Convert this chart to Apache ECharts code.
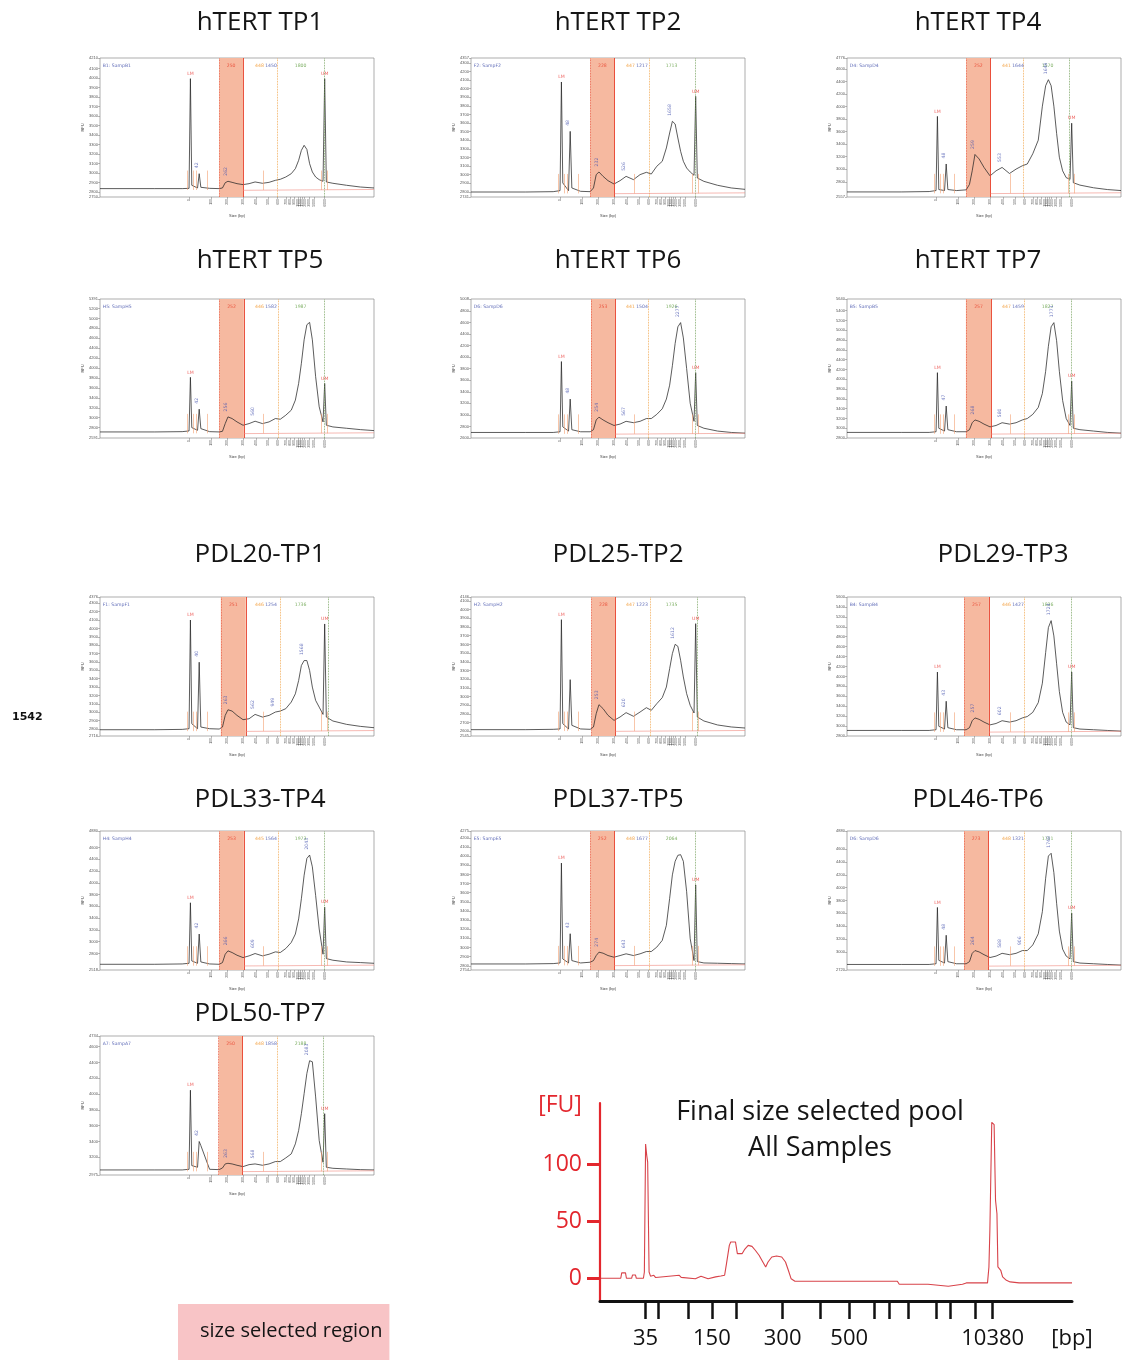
<!DOCTYPE html>
<html><head><meta charset="utf-8">
<script src="https://cdn.jsdelivr.net/npm/echarts@6/dist/echarts.min.js"></script>
<style>html,body{margin:0;padding:0;background:#fff}#c{width:1127px;height:1360px}</style>
</head><body><div id="c"></div><script>
// ---------- DATA: small electropherograms ----------
const tracePos = [0,20,30,32.5,33.0,33.5,35.6,36.2,36.8,40,43.5,44.7,45.7,46.7,48.2,50,52.2,54.4,56.6,59.3,61.7,64,65.8,67.8,69.8,71.3,72.5,73.5,74.5,75.5,76.5,77.5,78.7,80,81.4,82.0,82.6,85,90,95,100];
const LM_INDEX = 4, UM_INDEX = 35;
const sizeTickPos = [32.6,40.5,46.4,52.2,56.9,61.4,64.8,67.8,69.5,70.9,72.2,73.0,73.8,74.7,76.4,78.2,82.0];
const sizeTickLabels = ['1','100','200','300','400','500','600','700','800','900','1000','1200','1500','2000','3000','5000','6000'];

const titles = ['hTERT TP1','hTERT TP2','hTERT TP4','hTERT TP5','hTERT TP6','hTERT TP7','PDL20-TP1','PDL25-TP2','PDL29-TP3','PDL33-TP4','PDL37-TP5','PDL46-TP6','PDL50-TP7'];
const sampleNames = ['B1: SampB1','F2: SampF2','D4: SampD4','H5: SampH5','D6: SampD6','B5: SampB5','F1: SampF1','H2: SampH2','B4: SampB4','H4: SampH4','E5: SampE5','D6: SampD6','A7: SampA7'];
const yMin = [2750,2741,2557,2591,2600,2800,2716,2545,2800,2518,2754,2720,2975];
const yMax = [4210,4357,4776,5391,5008,5640,4376,4146,5600,4880,4275,4880,4734];
const yStep = [100,100,200,200,200,200,100,100,200,200,100,200,200];

const rfu_hTERT_TP1 = [2838,2838,2838,2841,3993,2873,2845,2995,2852,2841,2838,2845,2900,2915,2904,2890,2880,2890,2908,2894,2904,2925,2936,2960,2995,3048,3135,3240,3293,3250,3100,3013,2960,2932,2915,3993,2908,2894,2873,2855,2845];
const rfu_hTERT_TP2 = [2799,2799,2803,2815,4078,2904,2815,3504,2846,2807,2803,2846,3001,3032,2981,2931,2892,2931,2981,2943,3001,3028,3008,3098,3156,3311,3485,3621,3590,3427,3272,3156,3078,3032,2993,3911,2962,2923,2877,2846,2830];
const rfu_hTERT_TP4 = [2638,2638,2644,2660,3844,2676,2660,3084,2676,2660,2671,2758,2975,3236,3165,3029,2894,2975,3029,2932,3002,3056,3084,3247,3464,4007,4333,4430,4333,4007,3572,3192,2975,2866,2839,3735,2785,2747,2704,2676,2660];
const rfu_hTERT_TP5 = [2713,2713,2719,2733,3813,2800,2746,3172,2780,2719,2713,2726,2881,3016,2983,2915,2848,2881,2929,2881,2915,2983,2969,3050,3151,3354,3691,4096,4569,4873,4920,4569,3826,3219,2915,3691,2848,2814,2787,2760,2740];
const rfu_hTERT_TP6 = [2696,2696,2696,2708,3924,2793,2720,3274,2744,2708,2708,2744,2913,2961,2913,2865,2817,2841,2889,2865,2889,2937,2937,3009,3106,3274,3515,3852,4237,4526,4599,4334,3804,3202,2889,3732,2817,2769,2720,2696,2684];
const rfu_hTERT_TP7 = [2914,2914,2914,2928,4135,2999,2942,3453,2970,2928,2928,2970,3112,3169,3141,3084,3027,3056,3112,3084,3112,3169,3198,3283,3425,3709,4163,4674,5072,5157,4788,4163,3567,3198,3056,3964,2999,2970,2942,2914,2899];
const rfu_PDL20_TP1 = [2791,2791,2795,2803,4101,2863,2803,3597,2823,2803,2799,2823,2962,3029,3014,2962,2911,2922,2974,2942,2962,3002,3014,3042,3121,3220,3379,3558,3617,3617,3498,3300,3141,3061,2974,4054,2942,2895,2855,2831,2815];
const rfu_PDL25_TP2 = [2618,2618,2622,2626,3885,2687,2626,3194,2668,2626,2622,2649,2802,2906,2860,2783,2725,2764,2814,2772,2821,2871,2841,2917,2987,3109,3321,3494,3601,3578,3417,3225,3033,2898,2810,3839,2764,2718,2672,2649,2637];
const rfu_PDL29_TP3 = [2912,2912,2912,2926,4088,2996,2940,3500,2968,2926,2926,2968,3108,3164,3136,3080,3024,3052,3108,3080,3108,3164,3192,3276,3472,3864,4480,4984,5124,4816,4256,3696,3276,3080,3024,4088,2968,2940,2926,2912,2898];
const rfu_PDL33_TP4 = [2615,2615,2621,2632,3660,2672,2632,3129,2655,2621,2615,2644,2786,2843,2815,2769,2729,2758,2798,2758,2786,2826,2815,2883,2986,3129,3386,3729,4128,4414,4471,4271,3786,3215,2786,3586,2712,2684,2655,2644,2632];
const rfu_PDL37_TP5 = [2820,2820,2824,2831,3924,2875,2831,3151,2857,2831,2839,2857,2912,2949,2938,2912,2894,2912,2931,2912,2931,2956,2956,3004,3078,3243,3538,3795,3943,4009,4016,3943,3611,3096,2857,3685,2846,2831,2828,2824,2820];
const rfu_PDL46_TP6 = [2806,2806,2806,2817,3692,2871,2828,3260,2850,2817,2817,2850,2979,3022,3001,2958,2914,2936,2979,2958,2979,3022,3022,3109,3282,3627,4146,4491,4534,4232,3757,3325,3044,2936,2893,3606,2850,2828,2817,2806,2796];
const rfu_PDL50_TP7 = [3039,3039,3039,3047,4048,3094,3073,3399,3348,3047,3043,3064,3115,3123,3115,3098,3081,3106,3115,3098,3115,3145,3145,3191,3242,3369,3539,3751,4005,4260,4421,4408,3963,3412,3136,3751,3073,3060,3051,3043,3039];
const traces = [rfu_hTERT_TP1,rfu_hTERT_TP2,rfu_hTERT_TP4,rfu_hTERT_TP5,rfu_hTERT_TP6,rfu_hTERT_TP7,rfu_PDL20_TP1,rfu_PDL25_TP2,rfu_PDL29_TP3,rfu_PDL33_TP4,rfu_PDL37_TP5,rfu_PDL46_TP6,rfu_PDL50_TP7];

const regionStart = [43.5,43.5,43.5,43.5,43.8,43.4,44.1,43.9,42.7,43.5,43.5,42.7,43.3];
const regionEnd   = [52.2,52.4,52.4,52.5,52.6,52.6,53.2,52.7,51.8,52.5,52.3,51.5,52.0];
const lowerCutPos = [64.8,65.0,64.3,65.0,64.8,64.8,65.9,65.4,64.6,64.9,64.9,64.6,64.8];
const upperCutPos = [82.0,82.0,81.1,82.0,82.0,82.0,83.4,82.6,81.8,82.0,82.0,81.8,81.5];
const regionLabel = ['250','228','252','252','253','257','251','228','257','253','252','273','250'];
const lowerLabel  = ['448','447','441','446','441','447','446','447','446','445','448','448','448'];
const midLabel    = ['1450','1217','1644','1582','1504','1459','1254','1223','1427','1564','1677','1321','1858'];
const upperLabel  = ['1800','1713','1570','1987','1926','1827','1736','1735','1836','1973','2064','1711','2188'];
const peakNotes = [
  [[7,'42'],[13,'262']],
  [[7,'48'],[13,'232'],[18,'526'],[27,'1658']],
  [[7,'48'],[13,'259'],[18,'553'],[27,'1649']],
  [[7,'42'],[13,'256'],[18,'560']],
  [[7,'48'],[13,'254'],[18,'567'],[30,'2277']],
  [[7,'47'],[13,'268'],[18,'580'],[29,'1771']],
  [[7,'40'],[13,'263'],[18,'562'],[21,'949'],[28,'1568']],
  [[13,'253'],[18,'620'],[28,'1612']],
  [[7,'43'],[13,'257'],[18,'602'],[28,'1724']],
  [[7,'42'],[13,'266'],[18,'609'],[30,'2043']],
  [[7,'43'],[13,'274'],[18,'643']],
  [[7,'48'],[13,'264'],[18,'588'],[21,'906'],[28,'1748']],
  [[7,'42'],[13,'263'],[18,'568'],[30,'2083']]
];
const peakMarkPos = [31.9,34.0,35.2,39.0,59.5,80.8,83.0];

// ---------- DATA: final pooled trace ----------
const ladderSizes = [35,50,100,150,200,300,400,500,600,700,1000,2000,3000,7000,10380];
const ladderPos = [9.66,12.3,18.6,23.7,28.8,38.7,46.6,52.8,58.2,61.2,65.3,71.3,74.2,79.6,83.2];
const ladderLabelled = [35,150,300,500,10380];
const fuTicks = [0,50,100];
const poolPos = [0.2,4.4,4.6,5.4,5.6,6.7,6.9,7.5,7.7,9.2,9.4,9.66,9.9,10.1,10.4,10.7,11.4,11.8,16.8,17.2,20.2,21.4,22.9,24.5,25.6,26.4,26.8,27.2,27.4,27.7,28.7,29.1,30.1,30.6,31.4,32.2,32.9,33.7,34.5,35.1,35.6,36.4,37.4,38.5,39.3,39.9,40.5,41.3,45.3,63.0,63.4,69.5,69.9,73.8,74.2,76.8,77.6,78.0,79.9,82.1,82.4,82.6,83.0,83.5,83.8,84.1,84.3,84.9,85.3,86.1,86.9,88.8,100];
const poolFU = [0,0,4.7,4.7,0,0,2.9,2.9,0,0,5.5,118,108,102,5.5,1.8,2.6,0.6,2.6,0.8,-0.5,1.8,-0.5,1.2,2.0,2.6,12.9,14.3,28.9,31.9,31.9,21.6,21.6,25.1,28.9,28,24.6,20.2,14.3,9.9,14.3,18.7,19.6,18.7,14.3,7.0,-0.5,-2.6,-2.6,-2.6,-5.3,-5.3,-7.0,-7.0,-5.3,-5.3,-4.1,-3.2,-4.1,-4.1,9.9,42.1,137,135,68.4,56.7,9.9,7.0,1.2,-1.8,-3.2,-4.1,-4.1];

// ---------- LAYOUT ----------
const colLeft = [100,471,847], rowTop = [58,299,597,831,1036], PW = 274, PH = 139;
const cell = [[0,0],[0,1],[0,2],[1,0],[1,1],[1,2],[2,0],[2,1],[2,2],[3,0],[3,1],[3,2],[4,0]];
const titleX = [260,618,978,260,618,978,260,618,1003,260,618,978,260];
const titleY = [22,22,22,260,260,260,554,554,554,799,799,799,1013];
const FONT = "'Open Sans', 'Noto Sans', sans-serif";

const grid = [], xAxis = [], yAxis = [], series = [], title = [];

function yLabelValues(i){
  const out=[yMin[i]], s=yStep[i];
  for(let v=Math.ceil(yMin[i]/s)*s; v<yMax[i]; v+=s){
    if(v-yMin[i] > s*0.45 && yMax[i]-v > s*0.45) out.push(v);
  }
  out.push(yMax[i]); return out;
}

traces.forEach((tr, i) => {
  const [r, c] = cell[i];
  grid.push({left: colLeft[c], top: rowTop[r], width: PW, height: PH, show: true, borderColor: '#8a8a8a', borderWidth: 0.7, backgroundColor: 'transparent'});
  xAxis.push({type: 'value', gridIndex: i, min: 0, max: 100,
    axisLine: {show: false, onZero: false}, splitLine: {show: false},
    axisTick: {show: true, customValues: sizeTickPos, length: 2, lineStyle: {color: '#777', width: 0.5}},
    axisLabel: {show: true, customValues: sizeTickPos, rotate: 90, fontSize: 3.5, color: '#555', margin: 2,
      formatter: v => { const k = sizeTickPos.indexOf(v); return k >= 0 ? sizeTickLabels[k] : ''; }},
    name: 'Size (bp)', nameLocation: 'middle', nameGap: 17, nameTextStyle: {fontSize: 4, color: '#444'}});
  const yv = yLabelValues(i);
  yAxis.push({type: 'value', gridIndex: i, min: yMin[i], max: yMax[i],
    axisLine: {show: false, onZero: false}, splitLine: {show: false},
    axisTick: {show: true, customValues: yv, length: 2, lineStyle: {color: '#777', width: 0.5}},
    axisLabel: {show: true, customValues: yv, fontSize: 4, color: '#555', margin: 2, formatter: v => String(v)},
    name: 'RFU', nameLocation: 'middle', nameGap: 15, nameRotate: 90, nameTextStyle: {fontSize: 4, color: '#444'}});

  const base = tr[0], range = yMax[i] - yMin[i];
  const markSegs = peakMarkPos.map(x => [{coord: [x, base - range*0.01]}, {coord: [x, base + range*0.13]}]);
  series.push({
    type: 'line', xAxisIndex: i, yAxisIndex: i, z: 3, silent: true, animation: false,
    data: tracePos.map((x, k) => [x, tr[k]]), symbol: 'none',
    lineStyle: {color: '#262626', width: 0.75},
    markArea: {silent: true, itemStyle: {color: '#f6b9a0'}, data: [[{xAxis: regionStart[i]}, {xAxis: regionEnd[i]}]]},
    markLine: {silent: true, symbol: ['none','none'], label: {show: false}, animation: false,
      data: [
        {xAxis: regionStart[i], lineStyle: {color: '#e8503a', type: 'dotted', width: 0.8}},
        {xAxis: regionEnd[i], lineStyle: {color: '#e8402a', type: 'solid', width: 0.9}},
        {xAxis: lowerCutPos[i], lineStyle: {color: '#f0a040', type: 'dotted', width: 0.8}},
        {xAxis: upperCutPos[i], lineStyle: {color: '#6c9a50', type: 'dotted', width: 0.8}},
        [{coord: [regionEnd[i], base - range*0.012], lineStyle: {color: '#f08a80', type: 'solid', width: 0.6}}, {coord: [100, base - range*0.006]}]
      ].concat(markSegs.map(s => [Object.assign({lineStyle: {color: '#f4a070', type: 'solid', width: 0.6}}, s[0]), s[1]]))
    }
  });

  const topY = yMax[i] - range*0.055;
  const lab = [];
  lab.push({value: [0.8, topY], label: {formatter: sampleNames[i], color: '#3b4aa8', position: 'right', distance: 0}});
  lab.push({value: [(regionStart[i]+regionEnd[i])/2, topY], label: {formatter: regionLabel[i], color: '#e8402a'}});
  lab.push({value: [58.2, topY], label: {formatter: lowerLabel[i], color: '#f09020'}});
  lab.push({value: [62.4, topY], label: {formatter: midLabel[i], color: '#3b4aa8'}});
  lab.push({value: [73.2, topY], label: {formatter: upperLabel[i], color: '#5a9a3a'}});
  lab.push({value: [tracePos[LM_INDEX], tr[LM_INDEX]], label: {formatter: 'LM', color: '#e8302a', position: 'top', distance: 2}});
  lab.push({value: [tracePos[UM_INDEX], tr[UM_INDEX]], label: {formatter: 'UM', color: '#e8302a', position: 'top', distance: 2}});
  peakNotes[i].forEach(([k, t]) => lab.push({value: [tracePos[k], tr[k]], label: {formatter: t, color: '#4a58b0', position: 'top', distance: 5, rotate: 90, align: 'left'}}));
  series.push({type: 'scatter', xAxisIndex: i, yAxisIndex: i, z: 6, silent: true, animation: false,
    symbolSize: 1, itemStyle: {color: 'rgba(0,0,0,0)'},
    label: {show: true, position: 'inside', fontSize: 4.6, fontFamily: 'DejaVu Sans'}, data: lab});

  title.push({text: titles[i], left: titleX[i], top: titleY[i] - 15, textAlign: 'center', padding: 0,
    textStyle: {fontFamily: FONT, fontSize: 26, lineHeight: 32, fontWeight: 'normal', color: '#151515'}});
});

// ---------- big pooled chart ----------
const B = traces.length;
grid.push({left: 600, top: 1103, width: 472, height: 198, show: false});
xAxis.push({type: 'value', gridIndex: B, min: 0, max: 100,
  axisLine: {show: true, onZero: false, lineStyle: {color: '#111', width: 3}}, splitLine: {show: false},
  axisTick: {show: true, customValues: ladderPos, length: 18, lineStyle: {color: '#111', width: 2.5}},
  axisLabel: {show: true, customValues: ladderLabelled.map(s => ladderPos[ladderSizes.indexOf(s)]), margin: 27,
    fontSize: 22, color: '#111', fontFamily: FONT,
    formatter: v => { const k = ladderPos.indexOf(v); return k >= 0 ? String(ladderSizes[k]) : ''; }}});
yAxis.push({type: 'value', gridIndex: B, min: -20, max: 154,
  axisLine: {show: true, onZero: false, lineStyle: {color: '#e3262d', width: 2.2}}, splitLine: {show: false},
  axisTick: {show: true, customValues: fuTicks, length: 13, lineStyle: {color: '#e3262d', width: 3}},
  axisLabel: {show: true, customValues: fuTicks, margin: 18, fontSize: 23, color: '#e3262d', fontFamily: FONT}});
series.push({type: 'line', xAxisIndex: B, yAxisIndex: B, symbol: 'none', silent: true, animation: false,
  data: poolPos.map((x, k) => [x, poolFU[k]]), lineStyle: {color: '#d8434a', width: 1.1}});

title.push({text: 'Final size selected pool\nAll Samples', left: 820, top: 1094, textAlign: 'center', padding: 0,
  textStyle: {fontFamily: FONT, fontSize: 27, lineHeight: 36, fontWeight: 'normal', color: '#151515'}});
title.push({text: '[FU]', left: 560, top: 1091, textAlign: 'center', padding: 0,
  textStyle: {fontFamily: FONT, fontSize: 23, lineHeight: 28, fontWeight: 'normal', color: '#e3262d'}});
title.push({text: '[bp]', left: 1072, top: 1325, textAlign: 'center', padding: 0,
  textStyle: {fontFamily: FONT, fontSize: 22, lineHeight: 28, fontWeight: 'normal', color: '#111'}});
title.push({text: '1542', left: 12, top: 711, padding: 0,
  textStyle: {fontFamily: "'DejaVu Sans', sans-serif", fontSize: 11, lineHeight: 13, fontWeight: 'bold', color: '#111'}});
title.push({text: 'size selected region', left: 178, top: 1304, padding: [14, 7, 15, 22], backgroundColor: '#f8c4c6',
  textStyle: {fontFamily: FONT, fontSize: 20, lineHeight: 27, fontWeight: 'normal', color: '#151515'}});

const chart = echarts.init(document.getElementById('c'), null, {renderer: 'canvas'});
chart.setOption({animation: false, backgroundColor: '#fff', title, grid, xAxis, yAxis, series});
</script></body></html>
